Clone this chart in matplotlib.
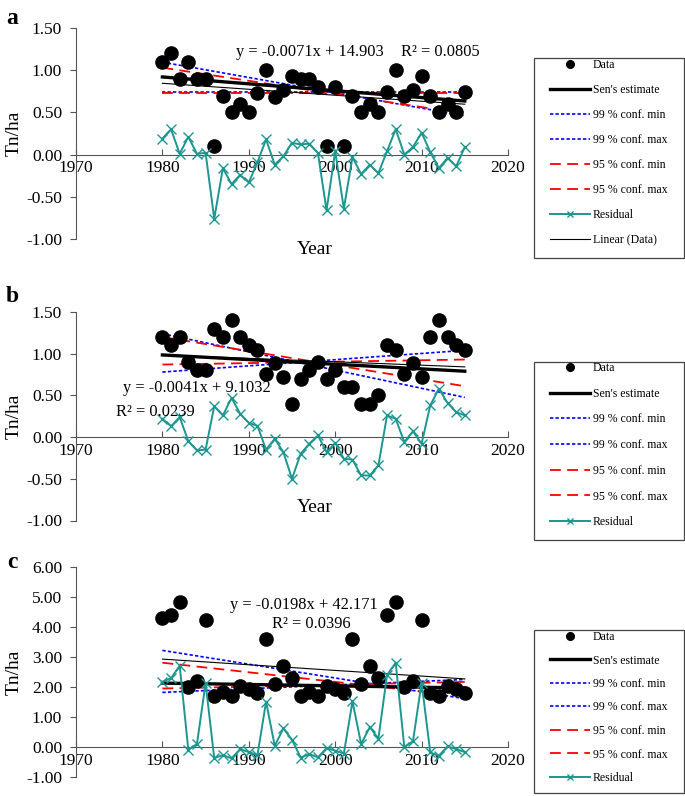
import matplotlib
matplotlib.use("Agg")
import matplotlib.pyplot as plt
from matplotlib.lines import Line2D
from matplotlib.patches import Rectangle

plt.rcParams['font.family'] = ['Liberation Serif', 'DejaVu Serif']

years = list(range(1980, 2016))

# panel a
data_a = [1.10, 1.20, 0.90, 1.10, 0.90, 0.90, 0.10, 0.70, 0.50, 0.60, 0.50, 0.73,
          1.00, 0.68, 0.77, 0.93, 0.90, 0.90, 0.80, 0.10, 0.80, 0.10, 0.70, 0.50,
          0.60, 0.50, 0.74, 1.00, 0.69, 0.77, 0.93, 0.70, 0.50, 0.60, 0.50, 0.74]
resid_a = [0.19, 0.30, 0.01, 0.21, 0.01, 0.02, -0.76, -0.16, -0.35, -0.24, -0.33, -0.09,
           0.18, -0.12, -0.02, 0.14, 0.12, 0.13, 0.02, -0.66, 0.04, -0.64, -0.03, -0.23,
           -0.12, -0.22, 0.04, 0.30, 0.00, 0.09, 0.26, 0.03, -0.16, -0.04, -0.14, 0.09]
sen_a = [0.92, 0.635]
lin_a = [0.845, 0.597]
c99_a = [[1.095, 0.46], [0.74, 0.74]]
c95_a = [[1.03, 0.485], [0.735, 0.735]]

# panel b
data_b = [1.20, 1.10, 1.20, 0.90, 0.80, 0.80, 1.30, 1.20, 1.40, 1.20, 1.10, 1.05,
          0.76, 0.89, 0.72, 0.40, 0.70, 0.80, 0.90, 0.70, 0.80, 0.60, 0.60, 0.40,
          0.40, 0.50, 1.10, 1.05, 0.76, 0.89, 0.72, 1.20, 1.40, 1.20, 1.10, 1.05]
resid_b = [0.22, 0.13, 0.24, -0.05, -0.16, -0.15, 0.37, 0.26, 0.47, 0.28, 0.17, 0.135,
           -0.15, -0.02, -0.18, -0.50, -0.20, -0.08, 0.02, -0.18, -0.07, -0.26, -0.27, -0.46,
           -0.46, -0.34, 0.26, 0.22, -0.06, 0.07, -0.08, 0.38, 0.58, 0.41, 0.30, 0.26]
sen_b = [0.985, 0.79]
lin_b = [0.985, 0.842]
c99_b = [[1.24, 0.476], [0.78, 1.04]]
c95_b = [[1.20, 0.61], [0.87, 0.93]]

# panel c
data_c = [4.29, 4.41, 4.83, 1.99, 2.19, 4.22, 1.70, 1.82, 1.70, 2.04, 1.93, 1.79,
          3.60, 2.10, 2.70, 2.30, 1.70, 1.82, 1.70, 2.04, 1.93, 1.79, 3.60, 2.10,
          2.70, 2.30, 4.41, 4.83, 1.99, 2.19, 4.22, 1.79, 1.70, 2.04, 1.93, 1.79]
resid_c = [2.18, 2.29, 2.71, -0.09, 0.10, 2.13, -0.37, -0.27, -0.38, -0.07, -0.17, -0.27,
           1.51, 0.04, 0.62, 0.24, -0.35, -0.24, -0.34, -0.04, -0.12, -0.22, 1.52, 0.10,
           0.66, 0.28, 2.40, 2.81, 0.00, 0.19, 2.15, -0.18, -0.29, 0.02, -0.07, -0.17]
sen_c = [2.13, 1.97]
lin_c = [2.93, 2.27]
c99_c = [[3.22, 1.61], [1.82, 2.25]]
c95_c = [[2.81, 1.69], [1.95, 2.17]]

W, H = 685, 796
fig = plt.figure(figsize=(W / 100, H / 100), dpi=100)

TEAL = '#1C9690'
AXC = '#555555'
DOT = (0, (2, 1.3))
DASH = (0, (6, 3.5))


def px(x, y):
    return x / W, 1 - y / H


def panel(top, bottom, ylim, yticks, data, resid, sen, lin, c99, c95):
    l, b = px(76, bottom)
    ax = fig.add_axes([l, b, 432 / W, (bottom - top) / H])
    ends = [1980, 2015]
    ax.plot(years, data, 'o', color='black', ms=9.5, zorder=5)
    ax.plot(ends, sen, color='black', lw=2.4, zorder=4)
    for c in c99:
        ax.plot(ends, c, color='#0000FF', lw=1.2, ls=DOT, zorder=3)
    for c in c95:
        ax.plot(ends, c, color='#FF0000', lw=1.3, ls=DASH, zorder=3)
    ax.plot(years, resid, color=TEAL, lw=1.4, marker='x', ms=7, mew=1.0, zorder=6)
    ax.plot(ends, lin, color='black', lw=0.8, zorder=4)
    ax.set_xlim(1970, 2020)
    ax.set_ylim(*ylim)
    ax.set_xticks(range(1970, 2021, 10))
    ax.set_yticks(yticks)
    ax.set_yticklabels([f"{v:.2f}" for v in yticks])
    ax.spines['top'].set_visible(False)
    ax.spines['right'].set_visible(False)
    ax.spines['bottom'].set_position(('data', 0))
    ax.spines['left'].set_color(AXC)
    ax.spines['bottom'].set_color(AXC)
    ax.tick_params(axis='y', direction='out', length=4.5, color=AXC, labelsize=12.5, pad=5.5)
    ax.tick_params(axis='x', direction='in', length=4, color=AXC, labelsize=12.5, pad=4)
    ax.patch.set_visible(False)
    ax.set_ylabel('Tn/ha', fontsize=14)
    ax.yaxis.set_label_coords(-0.124, 0.5)
    return ax


ax_a = panel(28, 239, (-1.0, 1.5), [-1.0, -0.5, 0.0, 0.5, 1.0, 1.5],
             data_a, resid_a, sen_a, lin_a, c99_a, c95_a)
ax_b = panel(312, 520.5, (-1.0, 1.5), [-1.0, -0.5, 0.0, 0.5, 1.0, 1.5],
             data_b, resid_b, sen_b, lin_b, c99_b, c95_b)
ax_c = panel(567, 777, (-1.0, 6.0), [-1.0, 0.0, 1.0, 2.0, 3.0, 4.0, 5.0, 6.0],
             data_c, resid_c, sen_c, lin_c, c99_c, c95_c)

fig.text(*px(315, 249), 'Year', fontsize=14, ha='center', va='center')
fig.text(*px(315, 508), 'Year', fontsize=14, ha='center', va='center')

for lab, y in (('a', 18), ('b', 296), ('c', 563)):
    fig.text(*px(12, y), lab, fontsize=17, fontweight='bold', ha='center', va='center')

eq = [("y = -0.0071x + 14.903", 310, 52), ("R² = 0.0805", 440, 52),
      ("y = -0.0041x + 9.1032", 197, 388), ("R² = 0.0239", 155, 412),
      ("y = -0.0198x + 42.171", 304, 605), ("R² = 0.0396", 311, 624)]
for s, x, y in eq:
    fig.text(*px(x, y), s, fontsize=11.8, ha='center', va='center')

labels_full = ['Data', "Sen's estimate", '99 % conf. min', '99 % conf. max',
               '95 % conf. min', '95 % conf. max', 'Residual', 'Linear (Data)']


def legend_handles(n):
    h = [Line2D([], [], ls='none', marker='o', color='black', ms=5.5),
         Line2D([], [], color='black', lw=2.4),
         Line2D([], [], color='#0000FF', lw=1.2, ls=DOT),
         Line2D([], [], color='#0000FF', lw=1.2, ls=DOT),
         Line2D([], [], color='#FF0000', lw=1.3, ls=DASH),
         Line2D([], [], color='#FF0000', lw=1.3, ls=DASH),
         Line2D([], [], color=TEAL, lw=1.4, marker='x', ms=5, mew=1.0),
         Line2D([], [], color='black', lw=0.8)]
    return h[:n]


FS = 8.5
FSPX = FS * 100 / 72


def legend(box_top, box_bottom, first_y, step, n):
    fig.add_artist(Rectangle(px(534, box_bottom), 150 / W, (box_bottom - box_top) / H,
                             transform=fig.transFigure, fill=False, ec='#444444', lw=0.9))
    row_h = 12.0
    fig.legend(legend_handles(n), labels_full[:n], loc='upper left',
               bbox_to_anchor=px(550, first_y - 5), frameon=False,
               fontsize=FS, labelspacing=(step - row_h) / FSPX, handlelength=3.4,
               handletextpad=0.25, borderpad=0, borderaxespad=0, numpoints=1)


legend(58, 258, 64, 25, 8)
legend(362, 540, 367, 25.7, 7)
legend(630, 793, 636, 23.5, 7)

fig.savefig('out.png', dpi=100)
